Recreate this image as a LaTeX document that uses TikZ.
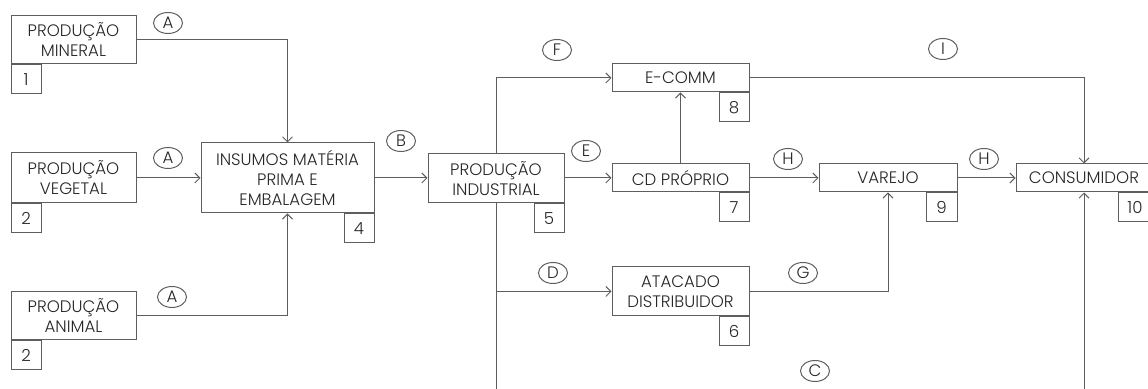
\documentclass[tikz,border=0pt]{standalone}
\usepackage{fontspec}
\setmainfont{Poppins Light}
\usetikzlibrary{arrows.meta,shapes.geometric}
\definecolor{ln}{HTML}{5E5E5E}
\definecolor{tx}{HTML}{262626}
\begin{document}
\begin{tikzpicture}[x=0.5pt,y=-0.5pt,
  font=\fontsize{8.3}{10}\selectfont, text=tx,
  box/.style={draw=ln, line width=0.5pt, rectangle, inner sep=0pt, align=center, minimum height=14pt},
  numbox/.style={draw=ln, line width=0.5pt, rectangle, inner sep=0pt, minimum width=15pt, minimum height=14.5pt},
  lbl/.style={draw=ln, line width=0.5pt, ellipse, inner sep=0pt, minimum width=14.5pt, minimum height=10.5pt, font=\fontsize{8.3}{9}\selectfont},
  conn/.style={draw=ln, line width=0.5pt, -{Straight Barb[length=2.5pt,width=5pt]}},
  plain/.style={draw=ln, line width=0.5pt}]
\useasboundingbox (0,0) rectangle (1148,389);
% boxes
\node[box, minimum width=62.5pt, minimum height=24pt] (min) at (73.5,40) {PRODUÇÃO\\MINERAL};
\node[numbox, anchor=north west] (n1) at (min.south west) {1};
\node[box, minimum width=62.5pt, minimum height=25pt] (veg) at (73.5,178) {PRODUÇÃO\\VEGETAL};
\node[numbox, anchor=north west] (n2a) at (veg.south west) {2};
\node[box, minimum width=62.5pt, minimum height=24pt] (ani) at (73.5,316) {PRODUÇÃO\\ANIMAL};
\node[numbox, anchor=north west] (n2b) at (ani.south west) {2};
\node[box, minimum width=86.5pt, minimum height=35pt] (ins) at (287.5,178) {INSUMOS MATÉRIA\\PRIMA E\\EMBALAGEM};
\node[numbox, anchor=north east] (n4) at (ins.south east) {4};
\node[box, minimum width=68pt, minimum height=24.5pt] (pi) at (496,178.5) {PRODUÇÃO\\INDUSTRIAL};
\node[numbox, anchor=north east] (n5) at (pi.south east) {5};
\node[box, minimum width=68.5pt] (ecomm) at (680.5,78) {E-COMM};
\node[numbox, anchor=north east] (n8) at (ecomm.south east) {8};
\node[box, minimum width=68.5pt] (cd) at (680.5,178) {CD PRÓPRIO};
\node[numbox, anchor=north east] (n7) at (cd.south east) {7};
\node[box, minimum width=68.5pt, minimum height=24.5pt] (ata) at (680.5,291.5) {ATACADO\\DISTRIBUIDOR};
\node[numbox, anchor=north east] (n6) at (ata.south east) {6};
\node[box, minimum width=69pt] (var) at (888,178) {VAREJO};
\node[numbox, anchor=north east, minimum width=15.5pt] (n9) at (var.south east) {9};
\node[box, minimum width=68pt] (con) at (1084,178) {CONSUMIDOR};
\node[numbox, anchor=north east, minimum width=17pt] (n10) at (con.south east) {10};
% coordinates
\coordinate (pibot) at (496,392);
\coordinate (conbot) at (1084,392);
% connectors
\draw[conn] (min.east) -| (ins.north);
\draw[conn] (veg.east) -- (ins.west);
\draw[conn] (ani.east) -| (ins.south);
\draw[conn] (ins.east) -- (pi.west |- ins.east);
\draw[conn] (pi.north) |- (ecomm.west);
\draw[conn] (pi.east |- cd.west) -- (cd.west);
\draw[plain] (pi.south) -- (pibot);
\draw[conn] (pi.south |- ata.west) -- (ata.west);
\draw[conn] (cd.north) -- (ecomm.south);
\draw[conn] (cd.east) -- (var.west);
\draw[conn] (var.east) -- (con.west);
\draw[conn] (ecomm.east) -| (con.north);
\draw[conn] (ata.east) -| (var.south);
\draw[conn] (conbot) -- (con.south);
% labels
\node[lbl] (la1) at (168,23) {A};
\node[lbl] (la2) at (168,158) {A};
\node[lbl] (la3) at (172,297) {A};
\node[lbl] (lb) at (401,141) {B};
\node[lbl] (lf) at (557,50) {F};
\node[lbl] (le) at (586,151) {E};
\node[lbl] (lh1) at (788,159) {H};
\node[lbl] (lh2) at (984,159) {H};
\node[lbl] (li) at (943,49) {I};
\node[lbl] (ld) at (553,273) {D};
\node[lbl] (lg) at (803,273) {G};
\node[lbl] (lc) at (815,371) {C};
\end{tikzpicture}
\end{document}
